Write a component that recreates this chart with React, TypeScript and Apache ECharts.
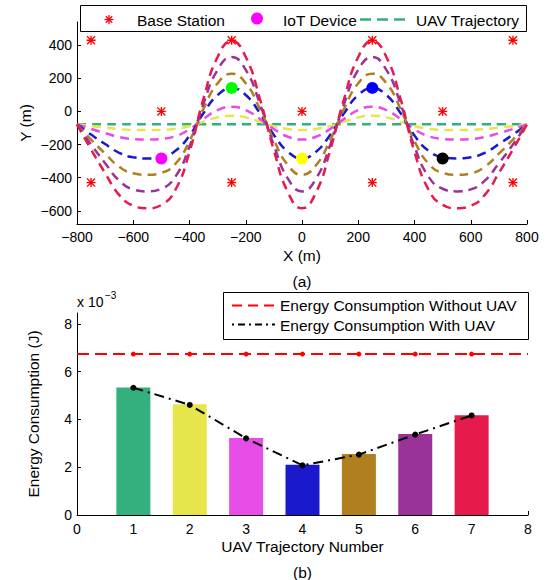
import React, { useEffect, useRef } from "react";
import * as echarts from "echarts";

// ---------- (a) trajectories ----------
const trajX = [-800, -750, -700, -650, -600, -550, -500, -450, -400, -350, -300, -250, -200, -150, -100, -50, 0, 50, 100, 150, 200, 250, 300, 350, 400, 450, 500, 550, 600, 650, 700, 750, 800];
const traj1 = [-78, -78, -78, -78, -78, -78, -78, -78, -78, -78, -78, -78, -78, -78, -78, -78, -78, -78, -78, -78, -78, -78, -78, -78, -78, -78, -78, -78, -78, -78, -78, -78, -78];
const traj2 = [-78, -89, -98, -107, -112, -113, -112, -105, -90, -62, -36, -26, -36, -62, -89, -106, -113, -106, -89, -62, -36, -26, -36, -62, -90, -105, -112, -113, -112, -107, -98, -89, -78];
const traj3 = [-78, -106, -131, -155, -167, -170, -166, -150, -108, -45, 8, 28, 8, -45, -107, -153, -170, -153, -107, -45, 8, 28, 8, -45, -108, -150, -166, -170, -167, -155, -131, -106, -78];
const traj4 = [-78, -140, -197, -250, -277, -284, -276, -238, -146, -10, 99, 140, 99, -10, -142, -244, -284, -244, -142, -10, 99, 140, 99, -10, -146, -238, -276, -284, -277, -250, -197, -140, -78];
const traj5 = [-78, -170, -255, -334, -374, -383, -371, -316, -179, 17, 170, 228, 170, 17, -173, -325, -383, -325, -173, 17, 170, 228, 170, 17, -179, -316, -371, -383, -374, -334, -255, -170, -78];
const traj6 = [-78, -200, -313, -418, -471, -483, -467, -394, -212, 48, 251, 328, 251, 48, -204, -406, -483, -406, -204, 48, 251, 328, 251, 48, -212, -394, -467, -483, -471, -418, -313, -200, -78];
const traj7 = [-78, -230, -372, -504, -570, -585, -565, -473, -245, 78, 329, 425, 329, 78, -235, -489, -585, -489, -235, 78, 329, 425, 329, 78, -245, -473, -565, -585, -570, -504, -372, -230, -78];
const trajectories = [traj1, traj2, traj3, traj4, traj5, traj6, traj7];
const trajColors = ["#33b07e", "#e6e64c", "#e64ce6", "#1a1acc", "#b07f1f", "#993399", "#e61a4c"];

const bsX = [-750, -250, 250, 750, -500, 0, 500, -750, -250, 250, 750];
const bsY = [430, 430, 430, 430, 0, 0, 0, -430, -430, -430, -430];

const iotX = [-500, -250, 0, 250, 500];
const iotY = [-284, 142, -284, 142, -284];
const iotColors = ["#ff00ff", "#00ff00", "#ffff00", "#0000ff", "#000000"];

const yTicksTop = [-600, -400, -200, 0, 200, 400];

// ---------- (b) energy ----------
const trajNumbers = [1, 2, 3, 4, 5, 6, 7];
const energyBars = [5.34, 4.64, 3.22, 2.1, 2.55, 3.39, 4.18];
const energyWithUAV = [5.33, 4.61, 3.21, 2.08, 2.53, 3.37, 4.17];
const energyWithoutUAV = [6.74, 6.74, 6.74, 6.74, 6.74, 6.74, 6.74];
const yTicksBottom = [0, 2, 4, 6, 8];

const FONT = "'Liberation Sans', Arial, Helvetica, sans-serif";
const ASTERISK =
  "path://M8.5,0L11.5,0L11.5,20L8.5,20Z M0,8.5L20,8.5L20,11.5L0,11.5Z M2.1,0L20,17.9L17.9,20L0,2.1Z M17.9,0L20,2.1L2.1,20L0,17.9Z";

const minus = (v: number) => String(v).replace("-", "\u2212");

function axisCommon() {
  return {
    axisLine: { onZero: false, lineStyle: { color: "#000", width: 1 } },
    axisTick: { inside: true, length: 4, lineStyle: { color: "#000" } },
    splitLine: { show: false },
  };
}

function txt(text: string, x: number, y: number, size: number, align = "center", rotation = 0) {
  return {
    type: "text",
    x,
    y,
    rotation,
    z: 20,
    style: { text, x: 0, y: 0, fill: "#000", fontSize: size, fontFamily: FONT, align, verticalAlign: "middle" },
  };
}

export default function App() {
  const ref = useRef<HTMLDivElement>(null);
  useEffect(() => {
    if (!ref.current) return;
    const chart = echarts.init(ref.current, null, { renderer: "svg" });

    const trajSeries = trajectories.map((t, i) => ({
      type: "line",
      xAxisIndex: 0,
      yAxisIndex: 0,
      data: trajX.map((x, k) => [x, t[k]]),
      smooth: true,
      symbol: "none",
      lineStyle: { color: trajColors[i], width: 2.5, type: [9, 6] },
      z: 2 + i * 0.01,
    }));

    const option: any = {
      animation: false,
      backgroundColor: "#fff",
      textStyle: { fontFamily: FONT },
      grid: [
        { left: 77, top: 22, width: 450, height: 202 },
        { left: 77, top: 313, width: 451, height: 202 },
      ],
      xAxis: [
        {
          gridIndex: 0,
          type: "value",
          min: -800,
          max: 800,
          interval: 200,
          ...axisCommon(),
          axisLabel: { color: "#000", fontSize: 14, fontFamily: FONT, margin: 6, formatter: minus },
        },
        {
          gridIndex: 1,
          type: "value",
          min: 0,
          max: 8,
          interval: 1,
          ...axisCommon(),
          axisLabel: { color: "#000", fontSize: 14, fontFamily: FONT, margin: 7 },
        },
      ],
      yAxis: [
        {
          gridIndex: 0,
          type: "value",
          min: -680,
          max: 540,
          ...axisCommon(),
          axisTick: { inside: true, length: 4, lineStyle: { color: "#000" }, customValues: yTicksTop },
          axisLabel: { color: "#000", fontSize: 14, fontFamily: FONT, margin: 5, customValues: yTicksTop, formatter: minus },
        },
        {
          gridIndex: 1,
          type: "value",
          min: 0,
          max: 8.46,
          ...axisCommon(),
          axisTick: { inside: true, length: 4, lineStyle: { color: "#000" }, customValues: yTicksBottom },
          axisLabel: { color: "#000", fontSize: 14, fontFamily: FONT, margin: 5, customValues: yTicksBottom },
        },
      ],
      series: [
        ...trajSeries,
        {
          type: "scatter",
          xAxisIndex: 0,
          yAxisIndex: 0,
          data: bsX.map((x, i) => [x, bsY[i]]),
          symbol: ASTERISK,
          symbolSize: 9,
          itemStyle: { color: "#ff0000", opacity: 1 },
          z: 5,
        },
        {
          type: "scatter",
          xAxisIndex: 0,
          yAxisIndex: 0,
          data: iotX.map((x, i) => ({ value: [x, iotY[i]], itemStyle: { color: iotColors[i], opacity: 1 } })),
          symbol: "circle",
          symbolSize: 12,
          itemStyle: { opacity: 1 },
          z: 6,
        },
        {
          type: "bar",
          xAxisIndex: 1,
          yAxisIndex: 1,
          barWidth: 34,
          data: trajNumbers.map((n, i) => ({ value: [n, energyBars[i]], itemStyle: { color: trajColors[i] } })),
          z: 2,
        },
        {
          type: "line",
          xAxisIndex: 1,
          yAxisIndex: 1,
          data: [
            { value: [0, energyWithoutUAV[0]], symbol: "none" },
            ...trajNumbers.map((n, i) => [n, energyWithoutUAV[i]]),
            { value: [8, energyWithoutUAV[energyWithoutUAV.length - 1]], symbol: "none" },
          ],
          symbol: "circle",
          symbolSize: 5,
          showAllSymbol: true,
          itemStyle: { color: "#ff0000" },
          lineStyle: { color: "#ff0000", width: 2, type: [12, 6] },
          z: 4,
        },
        {
          type: "line",
          xAxisIndex: 1,
          yAxisIndex: 1,
          data: trajNumbers.map((n, i) => [n, energyWithUAV[i]]),
          symbol: "circle",
          symbolSize: 6,
          itemStyle: { color: "#000" },
          lineStyle: { color: "#000", width: 2, type: [10, 5, 2, 5] },
          z: 4,
        },
      ],
      graphic: [
        // top legend
        { type: "rect", z: 19, shape: { x: 80.5, y: 5.5, width: 446, height: 26 }, style: { fill: "#fff", stroke: "#000", lineWidth: 1 } },
        { type: "line", z: 20, shape: { x1: 109, y1: 15, x2: 109, y2: 24 }, style: { stroke: "#ff0000", lineWidth: 1.3 } },
        { type: "line", z: 20, shape: { x1: 104.5, y1: 19.5, x2: 113.5, y2: 19.5 }, style: { stroke: "#ff0000", lineWidth: 1.3 } },
        { type: "line", z: 20, shape: { x1: 105.8, y1: 16.3, x2: 112.2, y2: 22.7 }, style: { stroke: "#ff0000", lineWidth: 1.3 } },
        { type: "line", z: 20, shape: { x1: 112.2, y1: 16.3, x2: 105.8, y2: 22.7 }, style: { stroke: "#ff0000", lineWidth: 1.3 } },
        txt("Base Station", 137, 20, 15.5, "left"),
        { type: "circle", z: 20, shape: { cx: 257, cy: 18.5, r: 6 }, style: { fill: "#ff00ff" } },
        txt("IoT Device", 283, 20, 15.5, "left"),
        { type: "line", z: 20, shape: { x1: 360, y1: 19.5, x2: 411, y2: 19.5 }, style: { stroke: trajColors[0], lineWidth: 2.5, lineDash: [11, 6] } },
        txt("UAV Trajectory", 416, 20, 15.5, "left"),
        // axis names (a)
        txt("Y (m)", 25, 123, 15.5, "center", Math.PI / 2),
        txt("X (m)", 302, 255, 15.5),
        txt("(a)", 302, 281, 15.5),
        // (b)
        txt("x 10", 77, 302, 14, "left"),
        txt("\u22123", 105, 295, 10, "left"),
        { type: "rect", z: 19, shape: { x: 223.5, y: 292.5, width: 305, height: 47 }, style: { fill: "#fff", stroke: "#000", lineWidth: 1 } },
        { type: "line", z: 20, shape: { x1: 232, y1: 305.5, x2: 275, y2: 305.5 }, style: { stroke: "#ff0000", lineWidth: 2, lineDash: [10, 6] } },
        txt("Energy Consumption Without UAV", 280, 305.5, 15.5, "left"),
        { type: "line", z: 20, shape: { x1: 232, y1: 324.5, x2: 275, y2: 324.5 }, style: { stroke: "#000", lineWidth: 2, lineDash: [2, 4, 7, 4] } },
        txt("Energy Consumption With UAV", 280, 325, 15.5, "left"),
        txt("Energy Consumption (J)", 33, 414, 15.5, "center", Math.PI / 2),
        txt("UAV Trajectory Number", 302.5, 546, 15.5),
        txt("(b)", 302.5, 572, 15.5),
      ],
    };
    chart.setOption(option);
    return () => chart.dispose();
  }, []);
  return <div ref={ref} style={{ position: "absolute", left: 0, top: 0, width: 552, height: 580, background: "#fff" }} />;
}
